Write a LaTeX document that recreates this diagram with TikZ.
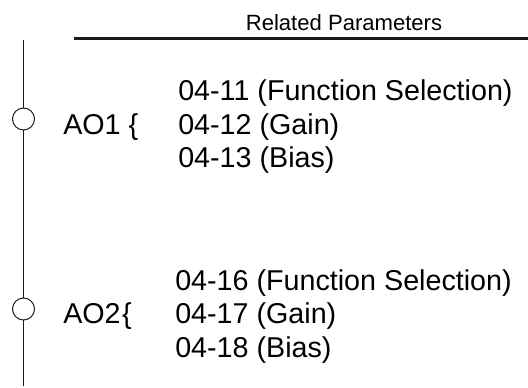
\documentclass[tikz,border=0pt]{standalone}
\usepackage{fontspec}
\setmainfont{Liberation Sans}
\usepackage{tikz}
\usetikzlibrary{positioning}
\definecolor{LineGray}{HTML}{1A1A1A}

\begin{document}
\begin{tikzpicture}[
    x=0.025cm,y=-0.025cm,
    head/.style={font=\fontsize{15.7pt}{18pt}\selectfont,anchor=base,inner sep=0pt},
    item/.style={font=\fontsize{20.4pt}{24pt}\selectfont,anchor=base west,inner sep=0pt},
    port/.style={circle,draw=LineGray,fill=white,line width=0.7pt,minimum size=0.55cm,inner sep=0pt},
    rail/.style={draw=LineGray,line width=1.1pt}
  ]
    \useasboundingbox (0,0) rectangle (528,388);

    % header
    \node[head] (title) at (344,31) {Related Parameters};
    \coordinate (hl) at (74,38.5);
    \coordinate (hr) at (528,38.5);
    \draw[LineGray,line width=1.5pt] (hl) -- (hr);

    % rail with the two outputs
    \coordinate (top) at (23.5,40);
    \coordinate (bot) at (23.5,386);
    \node[port] (ao1) at (23.5,119) {};
    \node[port] (ao2) at (23.5,309) {};
    \draw[rail] (top) -- (ao1);
    \draw[rail] (ao1) -- (ao2);
    \draw[rail] (ao2) -- (bot);

    % AO1
    \node[item] (lab1) at (63,134) {AO1 \{};
    \node[item] (p11) at (178,100) {04-11 (Function Selection)};
    \node[item] (p12) at (178,134) {04-12 (Gain)};
    \node[item] (p13) at (178,167) {04-13 (Bias)};

    % AO2
    \node[item] (lab2) at (63,323) {AO2\kern1pt\{};
    \node[item] (p16) at (175,290) {04-16 (Function Selection)};
    \node[item] (p17) at (175,323) {04-17 (Gain)};
    \node[item] (p18) at (175,357) {04-18 (Bias)};
\end{tikzpicture}
\end{document}
